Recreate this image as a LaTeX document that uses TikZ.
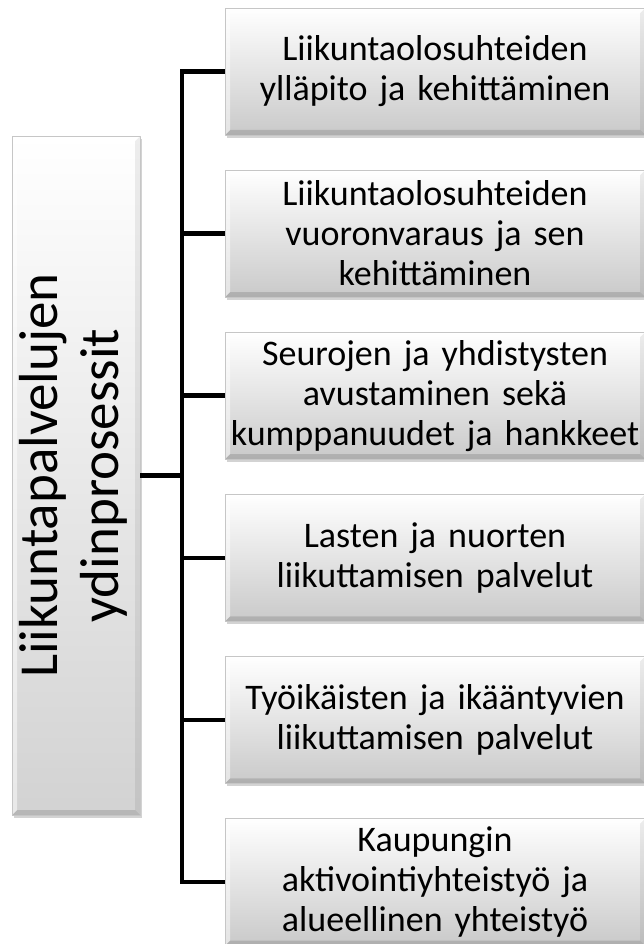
\documentclass[tikz,border=0pt]{standalone}
\usepackage{fontspec}
\setmainfont{Carlito}
\usetikzlibrary{positioning,shadows}

\tikzset{
  viiste/.style={path picture={
      \coordinate (kA) at (path picture bounding box.south west);
      \coordinate (kB) at (path picture bounding box.south east);
      \coordinate (kC) at (path picture bounding box.north east);
      \coordinate (kD) at (path picture bounding box.north west);
      \fill[black,opacity=0.13] (kA) -- (kB) -- ([shift={(-5pt,5pt)}]kB) -- ([shift={(5pt,5pt)}]kA) -- cycle;
      \fill[black,opacity=0.07] (kB) -- (kC) -- ([shift={(-5pt,-5pt)}]kC) -- ([shift={(-5pt,5pt)}]kB) -- cycle;
      \fill[white,opacity=0.7] (kD) -- (kC) -- ([shift={(-5pt,-5pt)}]kC) -- ([shift={(5pt,-5pt)}]kD) -- cycle;
      \fill[white,opacity=0.5] (kA) -- (kD) -- ([shift={(5pt,-5pt)}]kD) -- ([shift={(5pt,5pt)}]kA) -- cycle;
    }},
  laatikko/.style={rectangle, draw=gray!45, line width=0.5pt, viiste,
    drop shadow={shadow xshift=1.5pt, shadow yshift=-3pt, opacity=0.35}},
  prosessi/.style={laatikko, top color=white, bottom color=gray!42,
    minimum width=420pt, minimum height=127pt, text width=420pt, align=center,
    inner sep=0pt, font=\fontsize{36}{40}\selectfont},
  kytkin/.style={line width=4.5pt, line cap=butt}
}

\begin{document}
\begin{tikzpicture}[x=1pt, y=-1pt, line join=round]
	\useasboundingbox (0,0) rectangle (644,944);
	\def\vali{34.6pt} % laatikoiden väli
	% pääprosessi
	\node[laatikko, top color=white, bottom color=gray!35, minimum width=128pt, minimum height=679pt, inner sep=0pt]
		(ydin) at (76,475.5) {\fontsize{55}{61}\selectfont\rotatebox{90}{\begin{tabular}{@{}c@{}}Liikuntapalvelujen\\ydinprosessit\end{tabular}}};
	% aliprosessit
	\node[prosessi] (p1) at (435,71.5) {Liikuntaolosuhteiden\\ylläpito ja kehittäminen};
	\node[prosessi, below=\vali of p1] (p2) {Liikuntaolosuhteiden\\vuoronvaraus ja sen\\kehittäminen};
	\node[prosessi, below=\vali of p2] (p3) {Seurojen ja yhdistysten\\avustaminen sekä\\kumppanuudet ja hankkeet};
	\node[prosessi, below=\vali of p3] (p4) {Lasten ja nuorten\\liikuttamisen palvelut};
	\node[prosessi, below=\vali of p4] (p5) {Työikäisten ja ikääntyvien\\liikuttamisen palvelut};
	\node[prosessi, below=\vali of p5] (p6) {Kaupungin\\aktivointiyhteistyö ja\\alueellinen yhteistyö};
	% kytkennät
	\coordinate (runko) at (182,0);
	\draw[kytkin, line cap=rect] (p1.west -| runko) -- (p6.west -| runko);
	\draw[kytkin] (ydin.east) -- (ydin.east -| runko);
	\foreach \i in {1,...,6}
		\draw[kytkin] (p\i.west -| runko) -- (p\i.west);
\end{tikzpicture}
\end{document}
